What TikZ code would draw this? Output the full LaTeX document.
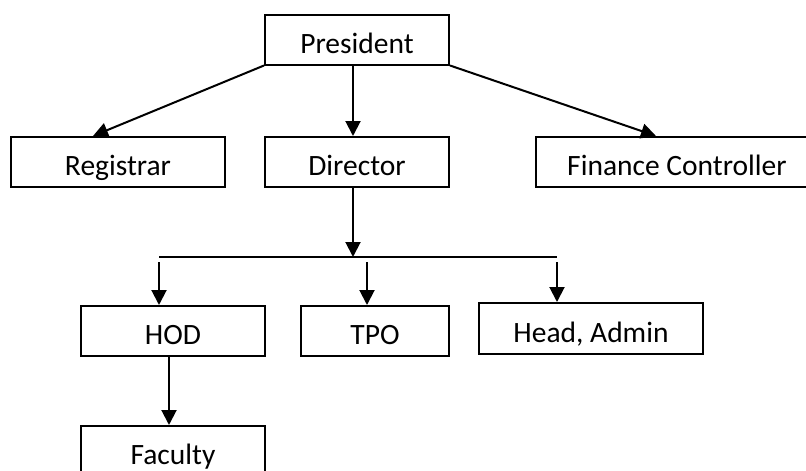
\documentclass[tikz,border=0pt]{standalone}
\usepackage{fontspec}
\setmainfont{Carlito}
\usepackage{tikz}
\usetikzlibrary{calc,arrows.meta}

\begin{document}
\begin{tikzpicture}[x=1pt,y=-1pt,
    box/.style={draw, line width=2pt, inner sep=0pt, minimum height=50pt, text height=27pt, text depth=0pt, font=\fontsize{29.5}{34}\selectfont},
    arr/.style={line width=2pt, -{Triangle[length=15pt,width=15pt]}}]
  \useasboundingbox (0,0) rectangle (806,471);
  % top level
  \node [box, minimum width=184pt] (pres) at (357,39.5) {President};
  \node [box, minimum width=214pt] (reg) at (118,162) {Registrar};
  \node [box, minimum width=184pt] (dir) at (357,162) {Director};
  \node [box, minimum width=282pt] (fin) at (677,162) {Finance Controller};
  \draw[arr] (pres.south west) -- ([xshift=-25pt]reg.north);
  \draw[arr] ([xshift=-4pt]pres.south) -- ([xshift=-4pt]dir.north);
  \draw[arr] (pres.south east) -- ([xshift=-21pt]fin.north);
  % under the director
  \coordinate (busl) at (159,257);
  \coordinate (busr) at (557,257);
  \node [box, minimum width=184pt] (hod) at (173,331) {HOD};
  \node [box, minimum width=148pt] (tpo) at (375,331) {TPO};
  \node [box, minimum width=224pt, minimum height=51pt] (adm) at (591,328.5) {Head, Admin};
  \node [box, minimum width=184pt] (fac) at (173,451) {Faculty};
  \draw[arr] ([xshift=-4pt]dir.south) -- ([xshift=-4pt]dir.south |- busl);
  \draw[line width=2pt] (busl) -- (busr);
  \draw[arr] ([xshift=-14pt]hod.north |- busl) ++(0,5) -- ([xshift=-14pt]hod.north);
  \draw[arr] ([xshift=-8pt]tpo.north |- busl) ++(0,5) -- ([xshift=-8pt]tpo.north);
  \draw[arr] ([xshift=-34pt]adm.north |- busl) ++(0,5) -- ([xshift=-34pt]adm.north);
  \draw[arr] ([xshift=-4pt]hod.south) -- ([xshift=-4pt]fac.north);
\end{tikzpicture}
\end{document}
